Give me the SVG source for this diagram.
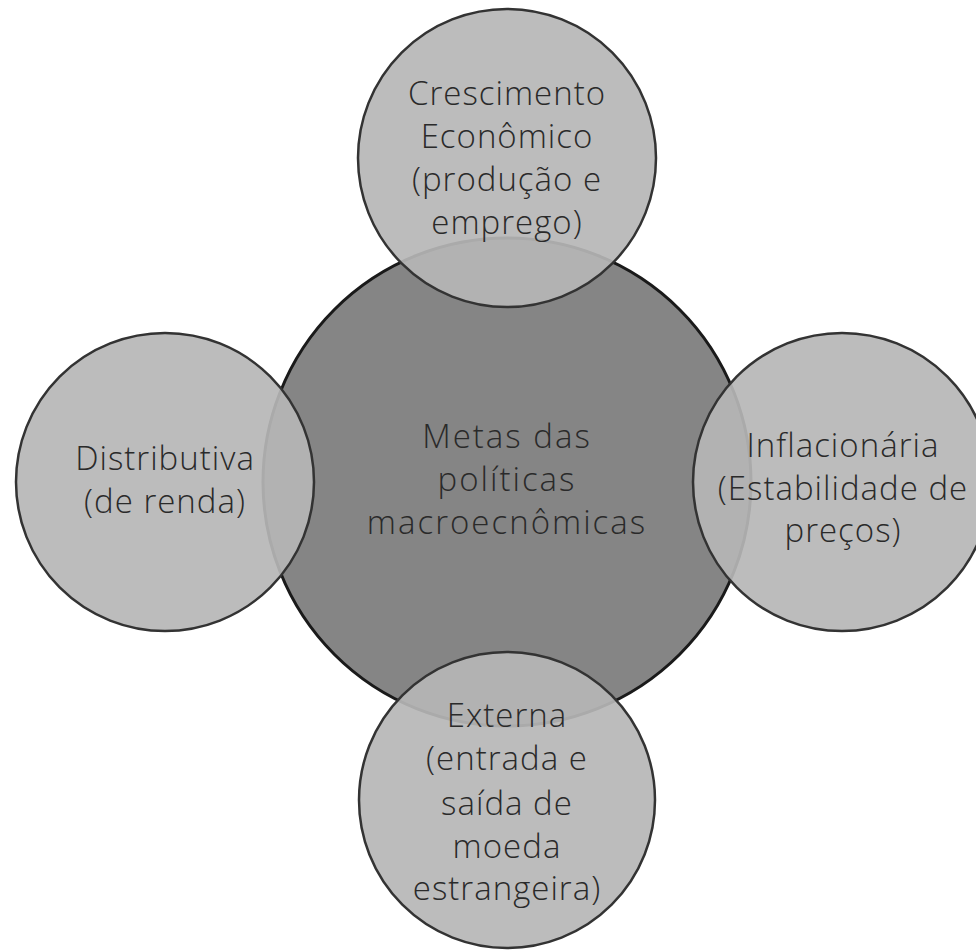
<svg xmlns="http://www.w3.org/2000/svg" width="976" height="951" viewBox="0 0 976 951">
<style>
.c{fill:#b6b6b6;fill-opacity:0.92;stroke:#333;stroke-width:2.5}
.m{fill:#858585;stroke:#1a1a1a;stroke-width:3}
text{font-family:"Open Sans","Liberation Sans",sans-serif;font-weight:300;font-size:33px;letter-spacing:1px;fill:#2a2a2a;text-anchor:middle}
#center text{letter-spacing:2px}
</style>
<rect width="976" height="951" fill="#fff"/>
<g id="center">
<circle class="m" cx="507" cy="482" r="244"/>
<text x="507" y="448">Metas das</text>
<text x="507" y="491">políticas</text>
<text x="507" y="534">macroecnômicas</text>
</g>
<g id="connectors"/>
<g id="top">
<circle class="c" cx="507" cy="158" r="149"/>
<text x="507" y="105">Crescimento</text>
<text x="507" y="148">Econômico</text>
<text x="507" y="191">(produção e</text>
<text x="507" y="234">emprego)</text>
</g>
<g id="left">
<circle class="c" cx="165" cy="482" r="149"/>
<text x="165" y="470">Distributiva</text>
<text x="165" y="513">(de renda)</text>
</g>
<g id="right">
<circle class="c" cx="842" cy="482" r="149"/>
<text x="843" y="457">Inflacionária</text>
<text x="843" y="500">(Estabilidade de</text>
<text x="843" y="542">preços)</text>
</g>
<g id="bottom">
<circle class="c" cx="507" cy="800" r="148"/>
<text x="507" y="727">Externa</text>
<text x="507" y="770">(entrada e</text>
<text x="507" y="815">saída de</text>
<text x="507" y="858">moeda</text>
<text x="507" y="900">estrangeira)</text>
</g>
</svg>
